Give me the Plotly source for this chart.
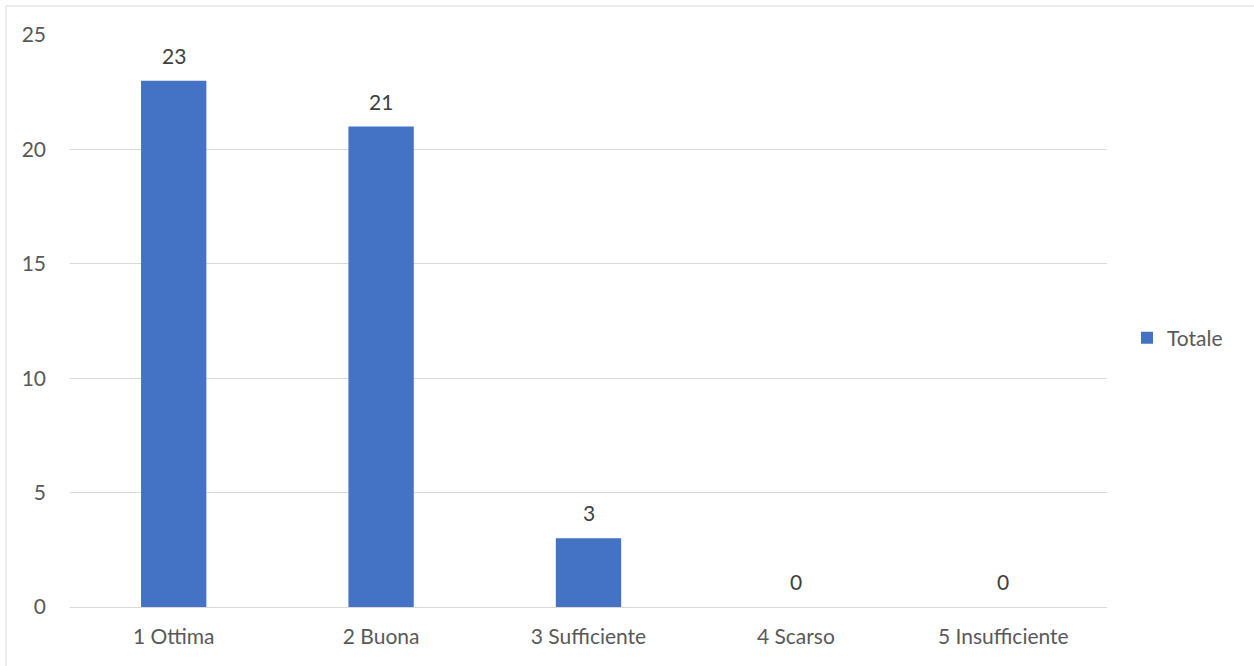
import plotly.graph_objects as go

categories = ["1 Ottima", "2 Buona", "3 Sufficiente", "4 Scarso", "5 Insufficiente"]
totale = [23, 21, 3, 0, 0]
series_name = "Totale"

W, H = 1254, 666
L, R, T, B = 70, 147, 35, 59
pw, ph = W - L - R, H - T - B

font_family = "Lato, 'Open Sans', sans-serif"
FS = 21

fig = go.Figure()
fig.add_trace(go.Bar(
    x=categories, y=totale, name=series_name,
    marker=dict(color="#4472c4", line=dict(width=0)),
))

for c, v in zip(categories, totale):
    fig.add_annotation(x=c, y=v, text=str(v), showarrow=False,
                       yanchor="bottom", yshift=11,
                       font=dict(color="#404040", size=FS, family=font_family))

fig.update_layout(
    width=W, height=H,
    margin=dict(l=L, r=R, t=T, b=B),
    paper_bgcolor="white", plot_bgcolor="white",
    bargap=0.685,
    showlegend=True,
    legend=dict(x=(1127 - L) / pw, y=(607 - 338) / ph, xanchor="left", yanchor="middle",
                font=dict(color="#595959", size=FS, family=font_family),
                itemwidth=30),
    xaxis=dict(showgrid=False, showline=False, ticks="", ticklabelstandoff=15,
               tickfont=dict(color="#595959", size=FS, family=font_family)),
    yaxis=dict(range=[0, 25], dtick=5, showgrid=True, gridcolor="#d9d9d9",
               gridwidth=1, zeroline=True, zerolinecolor="#d9d9d9", zerolinewidth=1,
               showline=False, ticks="", ticklabelstandoff=23,
               tickfont=dict(color="#595959", size=FS, family=font_family)),
    shapes=[dict(type="rect", xref="paper", yref="paper",
                 x0=(6 - L) / pw, x1=(1262 - L) / pw,
                 y0=-(674 - T - ph) / ph, y1=1 + (T - 6) / ph,
                 line=dict(color="#d9d9d9", width=1), layer="below")],
)

fig.write_html("out.html", config={"displayModeBar": False},
               post_script="document.body.style.margin='0';document.body.style.overflow='hidden';")
